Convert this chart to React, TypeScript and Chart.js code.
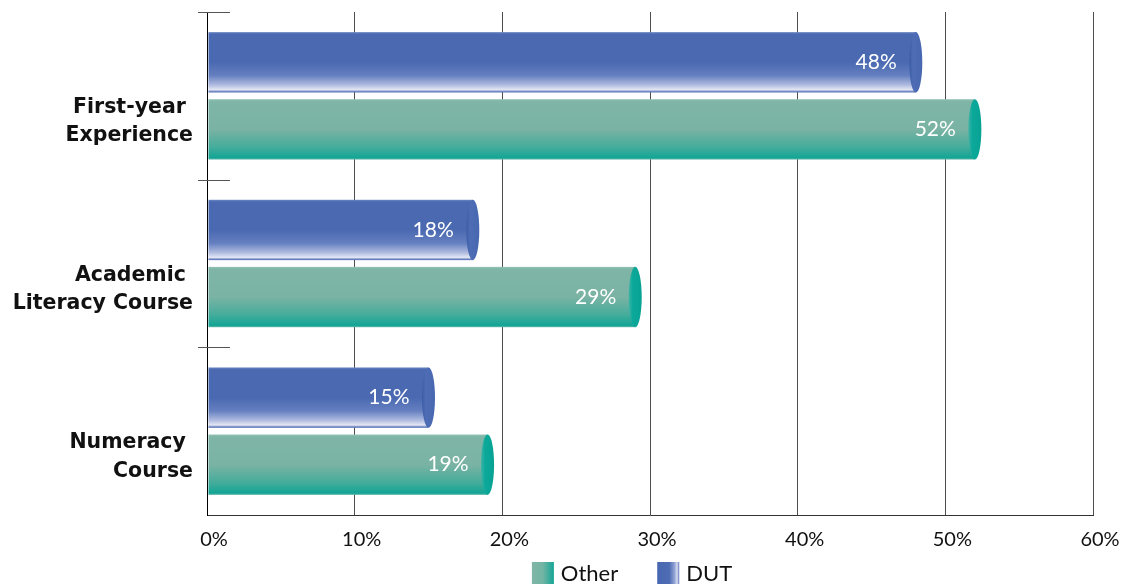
import React, { useEffect, useRef } from "react";
import { Chart, registerables } from "chart.js";

Chart.register(...registerables);

// ---- data ----
const categories: string[][] = [
  ["First-year ", "Experience"],
  ["Academic ", "Literacy Course"],
  ["Numeracy ", "Course"],
];
const dutValues = [48, 18, 15];
const otherValues = [52, 29, 19];
const seriesNames = ["DUT", "Other"];
const axisMax = 60;
const axisStep = 10;

const FONT = "Lato, 'Open Sans', 'DejaVu Sans', sans-serif";
const LABEL_FONT = "'DejaVu Sans', 'Open Sans', sans-serif";

type Stops = [number, string][];
type Look = { body: Stops; cap: Stops; swatch: Stops };

// shading for the cylinder bodies, end caps and legend swatches
const looks: Record<string, Look> = {
  DUT: {
    body: [
      [0, "#6C86C3"],
      [0.035, "#4A69B1"],
      [0.5, "#4A69B1"],
      [0.72, "#6580C0"],
      [0.88, "#B2BDE1"],
      [0.955, "#E4E7F4"],
      [0.98, "#8093C9"],
      [1, "#4A69B1"],
    ],
    cap: [
      [0, "#3C5CA6"],
      [0.3, "#4E6DB5"],
      [1, "#4767B0"],
    ],
    swatch: [
      [0, "#4767B0"],
      [0.55, "#4E6CB4"],
      [0.8, "#98A7D6"],
      [0.9, "#DCE0F1"],
      [1, "#5A74B8"],
    ],
  },
  Other: {
    body: [
      [0, "#92C2B5"],
      [0.04, "#7EB5A6"],
      [0.5, "#7AB3A4"],
      [0.8, "#44AC9B"],
      [0.97, "#12A595"],
      [1, "#62B7AB"],
    ],
    cap: [
      [0, "#3DB3A6"],
      [0.3, "#0CA99A"],
      [1, "#07A294"],
    ],
    swatch: [
      [0, "#80B6A7"],
      [0.5, "#72B4A4"],
      [1, "#12A696"],
    ],
  },
};

const addStops = (g: CanvasGradient, stops: Stops) => {
  stops.forEach(([o, c]) => g.addColorStop(o, c));
  return g;
};

// Paints each bar element as a cylinder with a rounded end and its value label
const cylinderPlugin = {
  id: "cylinders",
  afterDatasetsDraw(chart: any) {
    const ctx: CanvasRenderingContext2D = chart.ctx;
    chart.data.datasets.forEach((ds: any, di: number) => {
      const meta = chart.getDatasetMeta(di);
      if (meta.hidden) return;
      const look = looks[ds.label];
      meta.data.forEach((el: any, i: number) => {
        const { x, y, base, height } = el.getProps(["x", "y", "base", "height"], true);
        const top = y - height / 2;
        const rx = Math.min(6.5, height / 2);
        ctx.save();
        ctx.fillStyle = addStops(ctx.createLinearGradient(0, top, 0, top + height), look.body);
        ctx.fillRect(base + 1, top, x - base - 1, height);

        ctx.beginPath();
        ctx.ellipse(x, y, rx, height / 2, 0, 0, Math.PI * 2);
        ctx.fillStyle = addStops(ctx.createLinearGradient(x - rx, 0, x + rx, 0), look.cap);
        ctx.fill();

        ctx.fillStyle = "#ffffff";
        ctx.font = `21px ${FONT}`;
        ctx.textAlign = "right";
        ctx.textBaseline = "middle";
        ctx.fillText(`${ds.data[i]}%`, x - 19, y);
        ctx.restore();
      });
    });
  },
};

// Short marks on the category axis at the boundaries between groups
const stubsPlugin = {
  id: "categoryStubs",
  afterDraw(chart: any) {
    const ctx: CanvasRenderingContext2D = chart.ctx;
    const ys = chart.scales.y;
    const left = chart.chartArea.left;
    ctx.save();
    ctx.strokeStyle = "#555";
    ctx.lineWidth = 1;
    for (let i = 0; i < ys.getLabels().length; i++) {
      const p = Math.round(ys.getPixelForValue(i - 0.5)) + 0.5;
      ctx.beginPath();
      ctx.moveTo(left - 9, p);
      ctx.lineTo(left + 23, p);
      ctx.stroke();
    }
    ctx.restore();
  },
};

// Legend with shaded swatches, listed Other then DUT
const legendPlugin = {
  id: "swatchLegend",
  afterDraw(chart: any) {
    const ctx: CanvasRenderingContext2D = chart.ctx;
    const items = [...chart.data.datasets].reverse();
    const box = 22;
    const gapText = 7;
    const gapItem = 39;
    ctx.save();
    ctx.font = `22px ${FONT}`;
    const widths = items.map((d: any) => box + gapText + ctx.measureText(d.label).width);
    const total = widths.reduce((a: number, b: number) => a + b, 0) + gapItem * (items.length - 1);
    let x = 632 - total / 2;
    const cy = 573;
    items.forEach((d: any, k: number) => {
      const look = looks[d.label];
      ctx.fillStyle = addStops(ctx.createLinearGradient(x, 0, x + box, 0), look.swatch);
      ctx.fillRect(x, cy - box / 2, box, box);
      ctx.fillStyle = "#111";
      ctx.textAlign = "left";
      ctx.textBaseline = "middle";
      ctx.fillText(d.label, x + box + gapText, cy + 1);
      x += widths[k] + gapItem;
    });
    ctx.restore();
  },
};

export default function App() {
  const ref = useRef<HTMLCanvasElement>(null);

  useEffect(() => {
    if (!ref.current) return;
    const chart = new Chart(ref.current, {
      type: "bar",
      data: {
        labels: categories,
        datasets: [
          {
            label: seriesNames[0],
            data: dutValues,
            backgroundColor: "rgba(0,0,0,0)",
            borderWidth: 0,
          },
          {
            label: seriesNames[1],
            data: otherValues,
            backgroundColor: "rgba(0,0,0,0)",
            borderWidth: 0,
          },
        ],
      },
      options: {
        indexAxis: "y",
        responsive: false,
        animation: false,
        events: [],
        layout: { padding: { top: 12, right: 33, bottom: 33, left: 0 } },
        plugins: {
          legend: { display: false },
          tooltip: { enabled: false },
          title: { display: false },
        },
        scales: {
          x: {
            min: 0,
            max: axisMax,
            position: "bottom",
            ticks: {
              stepSize: axisStep,
              callback: (v: any) => `${v}%`,
              color: "#111",
              font: { family: FONT, size: 20 },
              padding: 13,
              labelOffset: 7,
              maxRotation: 0,
              autoSkip: false,
            },
            grid: { color: "#4d4d4d", lineWidth: 1, drawTicks: false },
            border: { color: "#333", width: 1 },
            afterFit: (s: any) => {
              s.paddingLeft = 0;
              s.paddingRight = 0;
              s.height = 37;
            },
          },
          y: {
            ticks: {
              color: "#111",
              font: { family: LABEL_FONT, size: 20.5, weight: "bold", lineHeight: 1.38 },
              padding: 14,
              labelOffset: 26,
              autoSkip: false,
            },
            grid: { display: false, drawTicks: false },
            border: { color: "#000", width: 1 },
            afterFit: (s: any) => {
              s.width = 207;
              s.paddingTop = 0;
              s.paddingBottom = 0;
            },
          },
        },
      },
      plugins: [cylinderPlugin, stubsPlugin, legendPlugin],
    } as any);
    return () => chart.destroy();
  }, []);

  return (
    <div style={{ position: "fixed", left: 0, top: 0, width: 1126, height: 585, background: "#fff" }}>
      <canvas ref={ref} width={1126} height={585} style={{ display: "block" }} />
    </div>
  );
}
